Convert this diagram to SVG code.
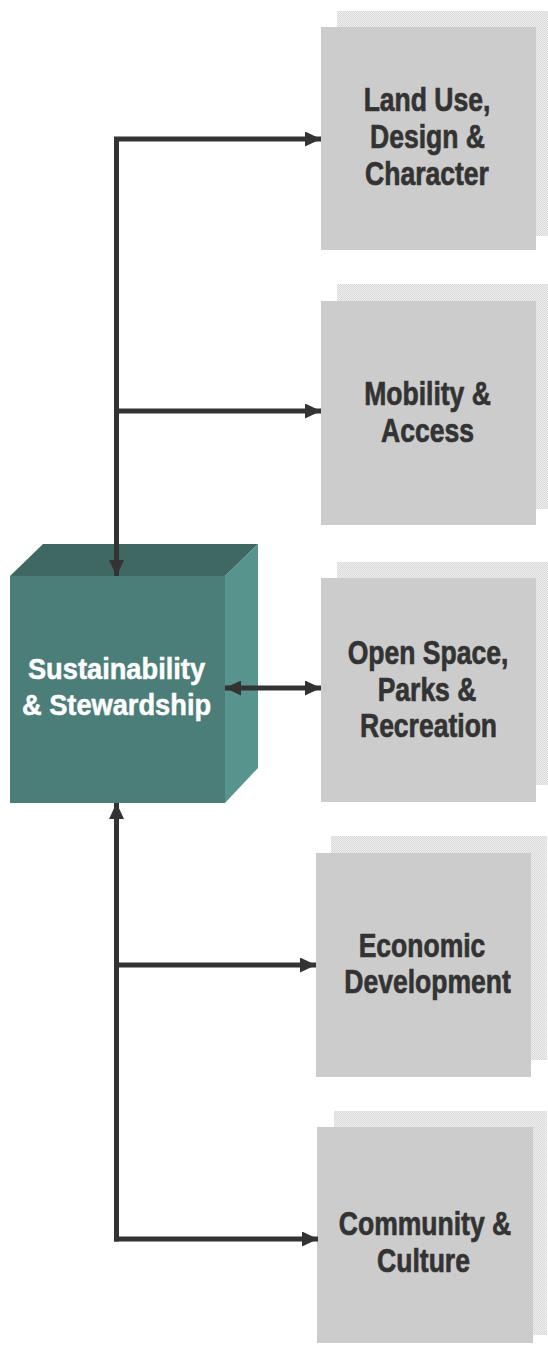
<svg xmlns="http://www.w3.org/2000/svg" width="548" height="1345" viewBox="0 0 548 1345">
<style>
.shadow{fill:url(#dots)}
.box{fill:#cccccc}
.lbl{font-family:"Liberation Sans",Arial,sans-serif;font-weight:bold;font-size:34px;fill:#333333;stroke:#333333;stroke-width:0.7px;text-anchor:middle}
.cl{font-family:"Liberation Sans",Arial,sans-serif;font-weight:bold;font-size:29px;fill:#ffffff;stroke:#ffffff;stroke-width:0.5px;text-anchor:middle}
.con{stroke:#333333;stroke-width:5;fill:none}
</style>
<defs>
<pattern id="dots" width="2" height="2" patternUnits="userSpaceOnUse">
<rect width="2" height="2" fill="#eeeeee"/>
<rect width="1" height="1" fill="#d9d9d9"/>
<rect x="1" y="1" width="1" height="1" fill="#d9d9d9"/>
</pattern>
<marker id="ah" viewBox="0 0 16 15" refX="16" refY="7.5" markerWidth="16" markerHeight="15" markerUnits="userSpaceOnUse" orient="auto-start-reverse">
<path d="M0,0 L16,7.5 L0,15 Z" fill="#333333"/>
</marker>
</defs>
<rect width="548" height="1345" fill="#ffffff"/>

<g id="node-sustainability">
<polygon points="10,576 43,544 258,544 225,576" fill="#3f6863"/>
<polygon points="225,576 258,544 258,768 225,803" fill="#58948e"/>
<rect x="10" y="576" width="215" height="227" fill="#4b7e78"/>
<text class="cl" transform="translate(116.5,679) scale(0.94,1)">Sustainability</text>
<text class="cl" transform="translate(116.5,715) scale(0.94,1)">&amp; Stewardship</text>
</g>

<g id="node-land-use">
<rect class="shadow" x="337" y="11" width="211" height="225"/>
<rect class="box" x="321" y="27" width="215" height="223"/>
<text class="lbl" transform="translate(427,111) scale(0.78,1)">Land Use,</text>
<text class="lbl" transform="translate(427.5,148) scale(0.78,1)">Design &amp;</text>
<text class="lbl" transform="translate(427,185) scale(0.78,1)">Character</text>
</g>

<g id="node-mobility">
<rect class="shadow" x="337" y="284" width="211" height="225"/>
<rect class="box" x="321" y="301" width="215" height="224"/>
<text class="lbl" transform="translate(427.5,405) scale(0.78,1)">Mobility &amp;</text>
<text class="lbl" transform="translate(427.5,442) scale(0.78,1)">Access</text>
</g>

<g id="node-open-space">
<rect class="shadow" x="337" y="562" width="211" height="223"/>
<rect class="box" x="321" y="578" width="215" height="224"/>
<text class="lbl" transform="translate(428,664) scale(0.78,1)">Open Space,</text>
<text class="lbl" transform="translate(427,701) scale(0.78,1)">Parks &amp;</text>
<text class="lbl" transform="translate(428.5,737) scale(0.78,1)">Recreation</text>
</g>

<g id="node-economic">
<rect class="shadow" x="331" y="836" width="216" height="224"/>
<rect class="box" x="316" y="853" width="215" height="224"/>
<text class="lbl" transform="translate(422,957) scale(0.78,1)">Economic</text>
<text class="lbl" transform="translate(427.5,993) scale(0.78,1)">Development</text>
</g>

<g id="node-community">
<rect class="shadow" x="334" y="1111" width="213" height="224"/>
<rect class="box" x="317" y="1127" width="216" height="216"/>
<text class="lbl" transform="translate(425,1235) scale(0.78,1)">Community &amp;</text>
<text class="lbl" transform="translate(423.5,1272) scale(0.78,1)">Culture</text>
</g>

<g id="connectors">
<path class="con" d="M116.5,139 V576" marker-end="url(#ah)"/>
<path class="con" d="M114,139 H321" marker-end="url(#ah)"/>
<path class="con" d="M116.5,411 H321" marker-end="url(#ah)"/>
<path class="con" d="M225,688 H321" marker-start="url(#ah)" marker-end="url(#ah)"/>
<path class="con" d="M116.5,803 V1241.5" marker-start="url(#ah)"/>
<path class="con" d="M116.5,965 H316" marker-end="url(#ah)"/>
<path class="con" d="M114,1239 H318" marker-end="url(#ah)"/>
</g>
</svg>
